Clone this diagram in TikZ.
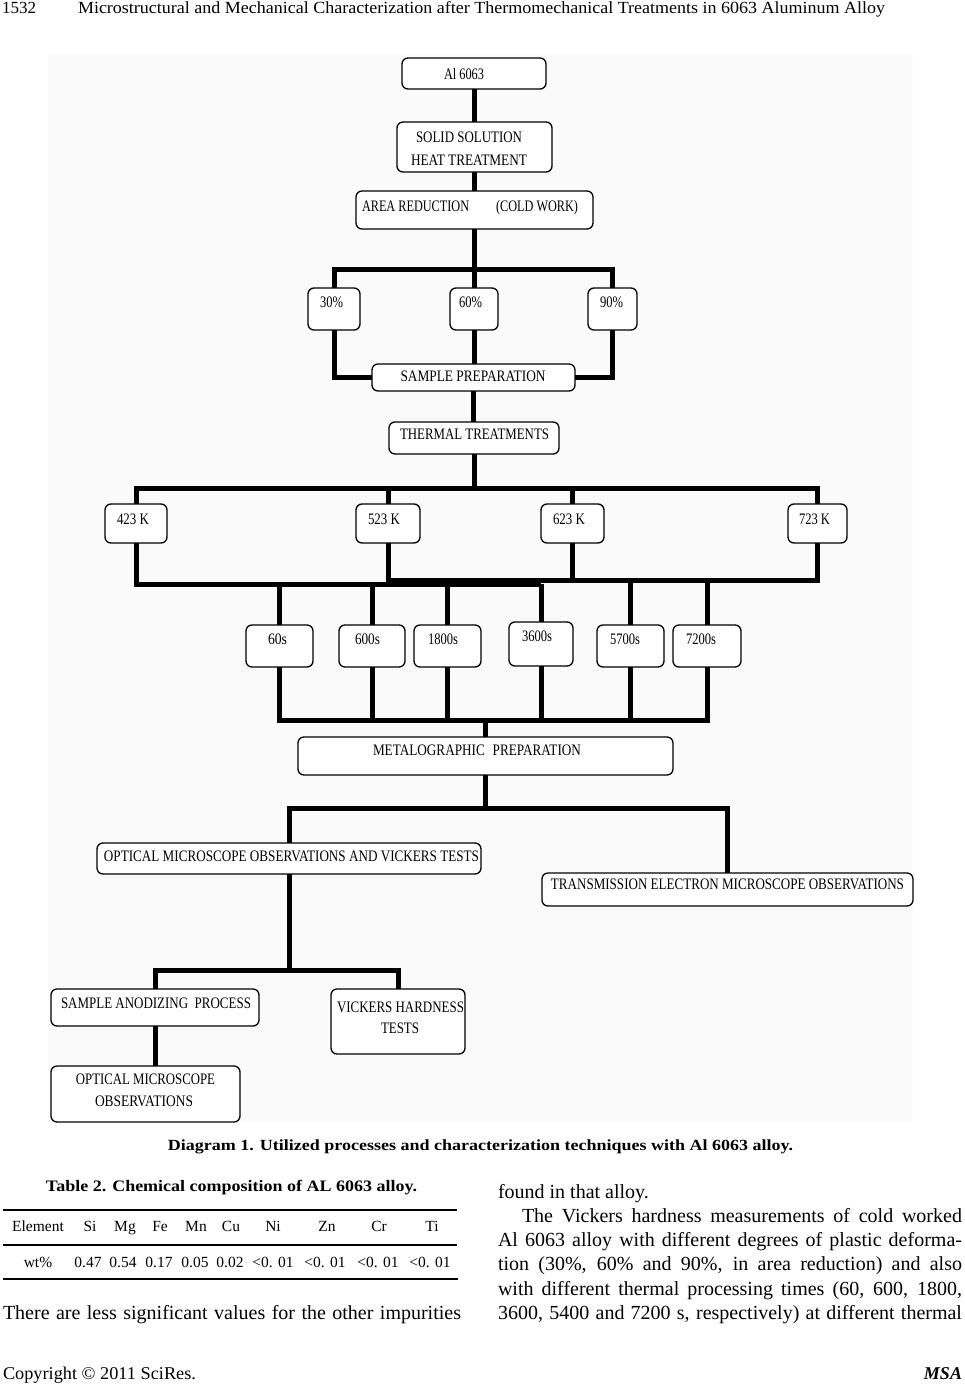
\documentclass[tikz,border=0pt]{standalone}
\usepackage{fontspec}
\setmainfont{Liberation Serif}
\usepackage{graphicx}
\newcommand\fitw[2]{\resizebox{#1}{\height}{#2}}
\newcommand\bx[5]{\node[box, minimum width={#4pt-#2pt}, minimum height={#5pt-#3pt}] (#1) at ({(#2+#4)/2},{(#3+#5)/2}) {};}
\tikzset{
  box/.style={draw=black, line width=1.3pt, rounded corners=6pt, fill=white, inner sep=0pt, outer sep=0pt},
  conn/.style={line width=5pt, line join=miter, draw=black},
  lbl/.style={inner sep=0pt, outer sep=0pt, anchor=center, text height=10.6pt, text depth=0pt, font=\fontsize{16}{16}\selectfont},
  txt/.style={inner sep=0pt, outer sep=0pt, font=\fontsize{20}{20}\selectfont},
  tab/.style={inner sep=0pt, outer sep=0pt, anchor=center, text height=10.3pt, text depth=0pt, font=\fontsize{15.5}{15.5}\selectfont},
  rule/.style={line width=1.1pt}
}
\begin{document}
\begin{tikzpicture}[x=1pt,y=-1pt]
\useasboundingbox (0,0) rectangle (964,1386);
\fill[white] (0,0) rectangle (964,1386);
% header
\node[txt, anchor=base west, font=\fontsize{17}{17}\selectfont] (pg) at (2,14) {1532};
\node[txt, anchor=base west, font=\fontsize{17}{17}\selectfont] (title) at (78,14) {\fitw{807pt}{Microstructural and Mechanical Characterization after Thermomechanical Treatments in 6063 Aluminum Alloy}};
% diagram background
\fill[black!2] (48,55) rectangle (913,1122);
% boxes
\bx{al}{402}{58}{546}{89}
\bx{ss}{397}{122}{552}{172}
\bx{ar}{356}{191}{593}{229}
\bx{p30}{308}{288}{360}{330}
\bx{p60}{450}{288}{498}{330}
\bx{p90}{588}{288}{637}{330}
\bx{sp}{372}{364}{575}{391}
\bx{tt}{389}{422}{559}{454}
\bx{k423}{105}{504}{167}{543}
\bx{k523}{356}{504}{420}{543}
\bx{k623}{541}{504}{604}{543}
\bx{k723}{788}{504}{847}{543}
\bx{s60}{246}{625}{313}{667}
\bx{s600}{339}{625}{405}{667}
\bx{s1800}{414}{625}{481}{667}
\bx{s3600}{509}{622}{573}{666}
\bx{s5700}{597}{625}{664}{667}
\bx{s7200}{673}{625}{741}{667}
\bx{mp}{298}{737}{673}{775}
\bx{om}{97}{843}{481}{874}
\bx{tem}{542}{873}{913}{906}
\bx{sap}{51}{989}{259}{1026}
\bx{vht}{331}{989}{465}{1054}
\bx{omo}{51}{1066}{240}{1122}
% bar coordinates
\coordinate (b1) at (474,269);
\coordinate (b2) at (474,488);
\coordinate (b3a) at (260,584);
\coordinate (b3b) at (600,580);
\coordinate (b4) at (486,720);
\coordinate (b5) at (486,808);
\coordinate (b6) at (290,970);
% connectors
\draw[conn] (al.south) -- (al.south |- ss.north);
\draw[conn] (ss.south) -- (ss.south |- ar.north);
\draw[conn] (ar.south) -- (ar.south |- b1);
\draw[conn] (p30.north) -- (p30.north |- b1) -- (p90.north |- b1) -- (p90.north);
\draw[conn] (p60.north) -- (p60.north |- b1);
\draw[conn] (p30.south) |- (sp.west);
\draw[conn] (p90.south) |- (sp.east);
\draw[conn] (p60.south) -- (p60.south |- sp.north);
\draw[conn] (sp.south) -- (sp.south |- tt.north);
\draw[conn] (tt.south) -- (tt.south |- b2);
\draw[conn] (k423.north) -- (k423.north |- b2) -- (k723.north |- b2) -- (k723.north);
\draw[conn] (k523.north) -- (k523.north |- b2);
\draw[conn] (k623.north) -- (k623.north |- b2);
\draw[conn] (k423.south) -- (k423.south |- b3a) -- (s3600.north |- b3a);
\draw[conn] (k523.south) -- (k523.south |- b3b) -- (k723.south |- b3b) -- (k723.south);
\draw[conn] (k623.south) -- (k623.south |- b3b);
\foreach \s in {s60,s600,s1800,s3600}{
  \draw[conn] (\s.north) -- (\s.north |- b3a);
}
\foreach \s in {s5700,s7200}{
  \draw[conn] (\s.north) -- (\s.north |- b3b);
}
\draw[conn] (s60.south) -- (s60.south |- b4) -- (s7200.south |- b4) -- (s7200.south);
\foreach \s in {s600,s1800,s3600,s5700}{
  \draw[conn] (\s.south) -- (\s.south |- b4);
}
\draw[conn] (mp.north) -- (mp.north |- b4);
\draw[conn] (mp.south) -- (mp.south |- b5);
\draw[conn] (om.north) -- (om.north |- b5) -- (tem.north |- b5) -- (tem.north);
\draw[conn] (om.south) -- (om.south |- b6);
\draw[conn] (sap.north) -- (sap.north |- b6) -- (vht.north |- b6) -- (vht.north);
\draw[conn] (sap.south) -- (sap.south |- omo.north);
% labels
\node[lbl] (t-al) at (464,74) {\fitw{40pt}{Al 6063}};
\node[lbl] (t-ss1) at (469,137) {\fitw{106pt}{SOLID SOLUTION}};
\node[lbl] (t-ss2) at (469,160) {\fitw{116pt}{HEAT TREATMENT}};
\node[lbl] (t-ar) at (470,206) {\fitw{216pt}{AREA REDUCTION\hspace{2.2em}(COLD WORK)}};
\node[lbl] (t-30) at (331.5,302) {\fitw{23pt}{30\%}};
\node[lbl] (t-60) at (470.5,302) {\fitw{23pt}{60\%}};
\node[lbl] (t-90) at (611.5,302) {\fitw{23pt}{90\%}};
\node[lbl] (t-sp) at (473,376) {\fitw{145pt}{SAMPLE PREPARATION}};
\node[lbl] (t-tt) at (474.5,434) {\fitw{149pt}{THERMAL TREATMENTS}};
\node[lbl] (t-423) at (133,519) {\fitw{32pt}{423 K}};
\node[lbl] (t-523) at (384,519) {\fitw{32pt}{523 K}};
\node[lbl] (t-623) at (569,519) {\fitw{32pt}{623 K}};
\node[lbl] (t-723) at (814.5,519) {\fitw{31pt}{723 K}};
\node[lbl] (t-s60) at (277.5,639) {\fitw{19pt}{60s}};
\node[lbl] (t-s600) at (367.5,639) {\fitw{25pt}{600s}};
\node[lbl] (t-s1800) at (443,639) {\fitw{30pt}{1800s}};
\node[lbl] (t-s3600) at (537,636) {\fitw{30pt}{3600s}};
\node[lbl] (t-s5700) at (625,639) {\fitw{30pt}{5700s}};
\node[lbl] (t-s7200) at (701,639) {\fitw{30pt}{7200s}};
\node[lbl] (t-mp) at (477,750) {\fitw{208pt}{METALOGRAPHIC\hspace{0.6em}PREPARATION}};
\node[lbl] (t-om) at (291.5,856) {\fitw{375pt}{OPTICAL MICROSCOPE OBSERVATIONS AND VICKERS TESTS}};
\node[lbl] (t-tem) at (727.5,884) {\fitw{353pt}{TRANSMISSION ELECTRON MICROSCOPE OBSERVATIONS}};
\node[lbl] (t-sap) at (156,1003) {\fitw{190pt}{SAMPLE ANODIZING\hspace{0.5em}PROCESS}};
\node[lbl] (t-vht1) at (400.5,1007) {\fitw{127pt}{VICKERS HARDNESS}};
\node[lbl] (t-vht2) at (400,1028) {\fitw{38pt}{TESTS}};
\node[lbl] (t-omo1) at (145.5,1079) {\fitw{139pt}{OPTICAL MICROSCOPE}};
\node[lbl] (t-omo2) at (144,1101) {\fitw{98pt}{OBSERVATIONS}};
% caption
\node[txt, anchor=center, font=\fontsize{15.5}{15.5}\selectfont\bfseries] (cap) at (480.5,1147) {\fitw{625pt}{Diagram 1. Utilized processes and characterization techniques with Al 6063 alloy.}};
% table
\node[txt, anchor=center, font=\fontsize{16}{16}\selectfont\bfseries] (tcap) at (231.5,1188) {\fitw{371pt}{Table 2. Chemical composition of AL 6063 alloy.}};
\draw[rule] (3,1210) -- (457,1210);
\draw[rule] (3,1245) -- (457,1245);
\draw[rule] (3,1279) -- (458,1279);
\foreach \x/\t [count=\i] in {38/Element,90/Si,125/Mg,160/Fe,196/Mn,231/Cu,273/Ni,327/Zn,379/Cr,432/Ti}{
  \node[tab] (h\i) at (\x,1226) {\t};
}
\foreach \x/\t [count=\i] in {38/wt\%,88/0.47,123/0.54,159/0.17,195/0.05,230/0.02,273/<0. 01,325/<0. 01,378/<0. 01,430/<0. 01}{
  \node[tab] (v\i) at (\x,1262) {\t};
}
% body text
\node[txt, anchor=base west] (l1) at (3,1319) {\makebox[458pt][s]{There are less significant values for the other impurities}};
\node[txt, anchor=base west] (r1) at (498,1198) {found in that alloy.};
\node[txt, anchor=base west] (r2) at (522,1222) {\makebox[440pt][s]{The Vickers hardness measurements of cold worked}};
\node[txt, anchor=base west] (r3) at (498,1246) {\makebox[464pt][s]{Al 6063 alloy with different degrees of plastic deforma-}};
\node[txt, anchor=base west] (r4) at (498,1270) {\makebox[464pt][s]{tion (30\%, 60\% and 90\%, in area reduction) and also}};
\node[txt, anchor=base west] (r5) at (498,1295) {\makebox[464pt][s]{with different thermal processing times (60, 600, 1800,}};
\node[txt, anchor=base west] (r6) at (498,1319) {\makebox[464pt][s]{3600, 5400 and 7200 s, respectively) at different thermal}};
% footer
\node[txt, anchor=base west, font=\fontsize{18}{18}\selectfont] (copy) at (3,1379) {\fitw{193pt}{Copyright © 2011 SciRes.}};
\node[txt, anchor=base east, font=\fontsize{18}{18}\selectfont\bfseries\itshape] (msa) at (962,1379) {MSA};
\end{tikzpicture}
\end{document}
